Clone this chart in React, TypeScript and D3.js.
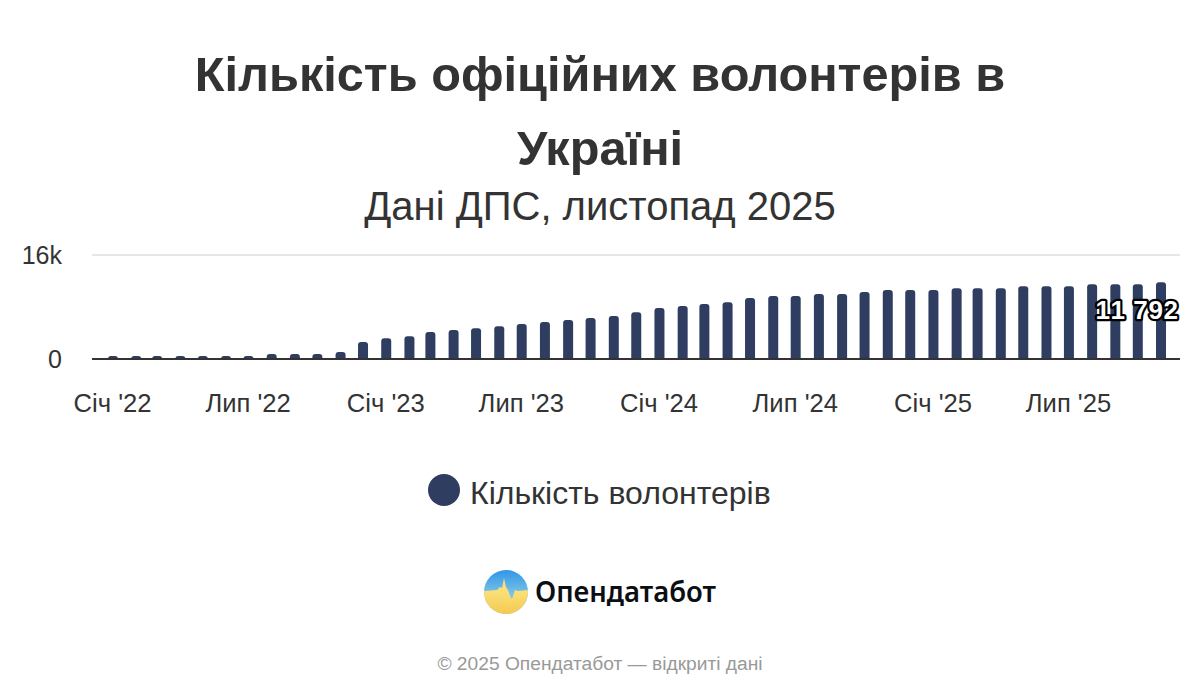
import * as d3 from "d3";

const WIDTH = 1200;
const HEIGHT = 700;
const NAVY = "#2f3e60";
const INK = "#333333";

const titleLines = ["Кількість офіційних волонтерів в", "Україні"];
const subtitle = "Дані ДПС, листопад 2025";
const seriesName = "Кількість волонтерів";
const footer = "© 2025 Опендатабот — відкриті дані";

// monthly, Jan 2022 - Nov 2025
const months = d3.utcMonth.range(new Date(Date.UTC(2022, 0, 1)), new Date(Date.UTC(2025, 11, 1)));
const volunteers = [
  450, 450, 450, 450, 450, 450, 450, 770, 770, 770, 1080, 2600,
  3200, 3500, 4150, 4450, 4750, 5050, 5400, 5700, 6000, 6300, 6600, 7200,
  7850, 8150, 8450, 8750, 9400, 9700, 9700, 10000, 10000, 10300, 10600, 10600,
  10600, 10900, 10900, 10900, 11200, 11200, 11200, 11500, 11500, 11500, 11792,
];
const xTickDates = [
  [2022, 0], [2022, 6], [2023, 0], [2023, 6], [2024, 0], [2024, 6], [2025, 0], [2025, 6],
].map(([y, m]) => new Date(Date.UTC(y, m, 1)));
const xTickLabels = ["Січ '22", "Лип '22", "Січ '23", "Лип '23", "Січ '24", "Лип '24", "Січ '25", "Лип '25"];
const yTicks = [0, 16000];
const yTickLabels = ["0", "16k"];
const lastLabel = "11 792";

const MARGIN = { left: 92, right: 1180, top: 255, bottom: 359 };
const BAR_WIDTH = 10;

const xScale = d3
  .scaleUtc()
  .domain([months[0], months[months.length - 1]])
  .range([113, 1161]);
const yScale = d3.scaleLinear().domain([0, 16000]).range([MARGIN.bottom, MARGIN.top]);

// bar with rounded top corners only
const barPath = (date: Date, value: number) => {
  const cx = xScale(date);
  const top = yScale(value);
  const h = MARGIN.bottom - top;
  const r = Math.min(3, h, BAR_WIDTH / 2);
  const p = d3.path();
  p.moveTo(cx - BAR_WIDTH / 2, MARGIN.bottom);
  p.lineTo(cx - BAR_WIDTH / 2, top + r);
  p.quadraticCurveTo(cx - BAR_WIDTH / 2, top, cx - BAR_WIDTH / 2 + r, top);
  p.lineTo(cx + BAR_WIDTH / 2 - r, top);
  p.quadraticCurveTo(cx + BAR_WIDTH / 2, top, cx + BAR_WIDTH / 2, top + r);
  p.lineTo(cx + BAR_WIDTH / 2, MARGIN.bottom);
  p.closePath();
  return p.toString();
};

const Logo = () => (
  <g>
    <defs>
      <linearGradient id="logoSky" x1="0" y1="0" x2="0" y2="1">
        <stop offset="0" stopColor="#2f96e6" />
        <stop offset="0.55" stopColor="#7cc3e6" />
      </linearGradient>
      <linearGradient id="logoField" x1="0" y1="0" x2="0" y2="1">
        <stop offset="0.4" stopColor="#f9df78" />
        <stop offset="1" stopColor="#f5c94f" />
      </linearGradient>
      <clipPath id="logoClip">
        <circle cx={506} cy={592} r={22} />
      </clipPath>
    </defs>
    <circle cx={506} cy={592} r={22} fill="url(#logoSky)" />
    <path
      d="M484 591 L497 590 L500 587 L502 588 L504 578 L506 587 L508 590 L510 596 L512 599 L515 590 L518 591 L528 590 L528 614 L484 614 Z"
      fill="url(#logoField)"
      clipPath="url(#logoClip)"
    />
    <text
      x={535}
      y={602}
      fontFamily="'Noto Sans', sans-serif"
      fontWeight={600}
      fontSize={29}
      textLength={181}
      lengthAdjust="spacingAndGlyphs"
      fill="#0b0f14"
    >
      Опендатабот
    </text>
  </g>
);

export default function App() {
  return (
    <svg
      width={WIDTH}
      height={HEIGHT}
      style={{ position: "absolute", left: 0, top: 0, background: "white" }}
      fontFamily="'Liberation Sans', Arial, sans-serif"
    >
      {titleLines.map((line, i) => (
        <text key={i} x={600} y={91 + i * 74} textAnchor="middle" fontSize={48.7} fontWeight={700} fill={INK}>
          {line}
        </text>
      ))}
      <text x={600} y={220} textAnchor="middle" fontSize={40} fill={INK}>
        {subtitle}
      </text>

      <line x1={MARGIN.left} x2={MARGIN.right} y1={yScale(16000)} y2={yScale(16000)} stroke="#e6e6e6" strokeWidth={2} />

      {months.map((d, i) => (
        <path key={i} d={barPath(d, volunteers[i])} fill={NAVY} />
      ))}

      <line x1={MARGIN.left} x2={MARGIN.right} y1={yScale(0)} y2={yScale(0)} stroke={INK} strokeWidth={2} />

      {yTicks.map((t, i) => (
        <text key={t} x={62} y={yScale(t) + 9} textAnchor="end" fontSize={25} fill={INK}>
          {yTickLabels[i]}
        </text>
      ))}
      {xTickDates.map((d, i) => (
        <text key={i} x={xScale(d) - 0.4} y={412} textAnchor="middle" fontSize={25.6} fill={INK}>
          {xTickLabels[i]}
        </text>
      ))}

      <text
        x={1178.5}
        y={319}
        textAnchor="end"
        fontSize={26}
        fontWeight={700}
        letterSpacing={0.6}
        fill="white"
        stroke="black"
        strokeWidth={4.5}
        strokeLinejoin="round"
        paintOrder="stroke"
        style={{ fontKerning: "none" }}
      >
        {lastLabel}
      </text>

      <circle cx={444} cy={490} r={16} fill={NAVY} />
      <text x={470} y={504} fontSize={32} fill={INK}>
        {seriesName}
      </text>

      <Logo />

      <text x={600} y={670} textAnchor="middle" fontSize={19.2} fill="#999999">
        {footer}
      </text>
    </svg>
  );
}
